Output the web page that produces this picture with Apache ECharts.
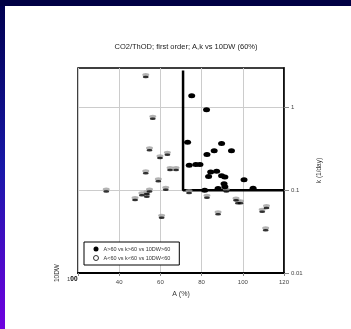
<!DOCTYPE html>
<html>
<head>
<meta charset="utf-8">
<script src="https://cdn.jsdelivr.net/npm/echarts@6/dist/echarts.min.js"></script>
<style>
  html, body { margin: 0; padding: 0; width: 351px; height: 329px; overflow: hidden; background: #000044; }
  #strip { position: absolute; left: 0; top: 6px; width: 5px; height: 323px; background: linear-gradient(#000050, #1818a8 50%, #7000e0); }
  #paper { position: absolute; left: 5px; top: 6px; width: 346px; height: 323px; background: #fff; }
  #chart { position: absolute; left: 0; top: 0; width: 351px; height: 329px; }
</style>
</head>
<body>
<div id="strip"></div>
<div id="paper"></div>
<div id="chart"></div>
<script>
// A (%) and k (1/day) for the two groups
const highA = [75.2, 82.4, 73.2, 89.7, 94.5, 86.1, 82.6, 74.0, 77.2, 79.2, 84.4, 87.3, 83.4, 89.7, 91.3, 100.6, 90.9, 91.3, 88.0, 105.0, 81.5];
const highK = [1.39, 0.94, 0.38, 0.366, 0.30, 0.30, 0.27, 0.20, 0.205, 0.205, 0.166, 0.17, 0.147, 0.15, 0.145, 0.134, 0.12, 0.11, 0.105, 0.106, 0.10];
const lowA = [52.9, 56.3, 54.7, 59.8, 63.4, 52.9, 64.7, 67.6, 59.0, 62.6, 54.7, 33.7, 53.4, 51.0, 53.4, 47.7, 60.6, 73.9, 82.6, 88.0, 96.7, 97.6, 98.9, 109.4, 111.5, 111.1, 92.0];
const lowK = [2.41, 0.755, 0.315, 0.253, 0.277, 0.166, 0.182, 0.182, 0.133, 0.105, 0.10, 0.10, 0.093, 0.090, 0.086, 0.079, 0.048, 0.096, 0.084, 0.053, 0.078, 0.072, 0.072, 0.057, 0.063, 0.034, 0.10];
// thick 60% cut-off lines
const cutA = [71, 71, 120];
const cutK = [2.8, 0.1, 0.1];
const kTicks = [0.01, 0.1, 1];

const highName = "A>60 vs k>60 vs 10DW>60";
const lowName = "A<60 vs k<60 vs 10DW<60";
const font = "'Liberation Sans', Arial, sans-serif";

const zip = (xs, ys) => xs.map((x, i) => [x, ys[i]]);

const chart = echarts.init(document.getElementById("chart"), null, { renderer: "canvas" });

chart.setOption({
  animation: false,
  backgroundColor: "transparent",
  textStyle: { fontFamily: font },
  title: {
    text: "CO2/ThOD; first order; A,k vs 10DW (60%)",
    left: 181,
    top: 38,
    textAlign: "center",
    textStyle: { fontSize: 7.5, fontWeight: "normal", color: "#222", fontFamily: font },
  },
  grid: {
    left: 78, right: 67, top: 68, bottom: 56,
    show: true, borderColor: "#000", borderWidth: 1.5,
  },
  legend: {
    orient: "vertical",
    left: 84, top: 242,
    padding: [4, 9, 4, 9],
    itemWidth: 5, itemHeight: 5, itemGap: 3,
    backgroundColor: "#fff",
    borderColor: "#000", borderWidth: 1,
    borderRadius: 0,
    selectedMode: false,
    textStyle: { fontSize: 5.5, color: "#333", fontFamily: font },
    data: [
      { name: highName, icon: "circle", itemStyle: { color: "#000" } },
      { name: lowName, icon: "circle", itemStyle: { color: "#fff", borderColor: "#000", borderWidth: 1 } },
    ],
  },
  xAxis: {
    type: "value",
    min: 20, max: 120, interval: 20,
    name: "A (%)",
    nameLocation: "middle",
    nameGap: 18,
    nameTextStyle: { fontSize: 7, color: "#333" },
    axisLine: { lineStyle: { color: "#000", width: 2 } },
    axisTick: { length: 3, lineStyle: { color: "#888" } },
    axisLabel: {
      fontSize: 6, color: "#444", margin: 6,
      formatter: (v) => (v === 20 ? "" : String(v)),
    },
    splitLine: { lineStyle: { color: "#ccc", width: 1 } },
  },
  yAxis: {
    type: "log",
    logBase: 10,
    min: 0.01, max: 3,
    position: "right",
    name: "k (1/day)",
    nameLocation: "middle",
    nameRotate: 90,
    nameGap: 32,
    nameTextStyle: { fontSize: 6.5, color: "#333" },
    axisLine: { show: true, lineStyle: { color: "#000", width: 1.5 } },
    axisTick: { show: true, length: 5, customValues: kTicks, lineStyle: { color: "#888" } },
    axisLabel: {
      fontSize: 6, color: "#444", margin: 7,
      customValues: kTicks,
      formatter: (v) => String(v),
    },
    splitLine: { lineStyle: { color: "#ccc", width: 1 } },
  },
  graphic: [
    {
      type: "text", left: 54, top: 264, rotation: Math.PI / 2,
      style: { text: "10DW", fontSize: 6.5, fill: "#333", fontFamily: font },
    },
    {
      type: "text", left: 67, top: 276,
      style: {
        text: "1{b|00}", fontSize: 6, fill: "#444", fontFamily: font,
        rich: { b: { fontSize: 6.5, fontWeight: "bold", fill: "#000" } },
      },
    },
  ],
  series: [
    {
      name: "cut",
      type: "line",
      data: zip(cutA, cutK),
      symbol: "none",
      lineStyle: { color: "#000", width: 2.5 },
      z: 1,
    },
    {
      name: lowName,
      type: "scatter",
      data: zip(lowA, lowK),
      symbol: "circle",
      symbolSize: [7, 3.5],
      symbolOffset: [0, -1],
      itemStyle: { color: "#a0a0a0" },
      z: 3,
    },
    {
      name: lowName,
      type: "scatter",
      data: zip(lowA, lowK),
      symbol: "circle",
      symbolSize: [6, 2.5],
      symbolOffset: [0, 1.2],
      itemStyle: { color: "#000" },
      z: 3,
    },
    {
      name: highName,
      type: "scatter",
      data: zip(highA, highK),
      symbol: "circle",
      symbolSize: [7, 5],
      itemStyle: { color: "#000", opacity: 1 },
      z: 4,
    },
  ],
});
</script>
</body>
</html>
